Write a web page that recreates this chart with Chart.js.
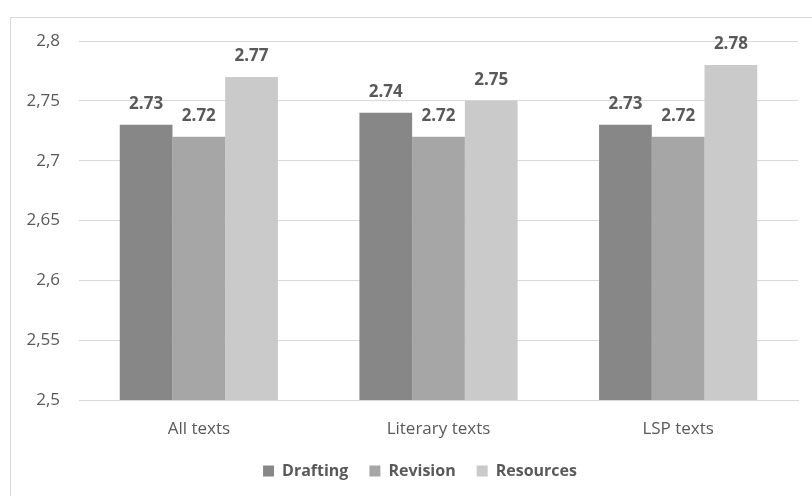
<!DOCTYPE html>
<html>
<head>
<meta charset="utf-8">
<script src="https://cdn.jsdelivr.net/npm/chart.js@4/dist/chart.umd.min.js"></script>
<style>
  html, body { margin: 0; padding: 0; background: #ffffff; overflow: hidden; width: 812px; height: 496px; }
  #frame { position: absolute; left: 10px; top: 17px; width: 820px; height: 490px; border-left: 1px solid #d9d9d9; border-top: 1px solid #d9d9d9; box-sizing: border-box; }
  #wrap { position: absolute; left: 10px; top: 17px; width: 820px; height: 472px; }
</style>
</head>
<body>
<div id="frame"></div>
<div id="wrap"><canvas id="c"></canvas></div>
<script>
const categories = ["All texts", "Literary texts", "LSP texts"];
const seriesNames = ["Drafting", "Revision", "Resources"];
const drafting = [2.73, 2.74, 2.73];
const revision = [2.72, 2.72, 2.72];
const resources = [2.77, 2.75, 2.78];
const yMin = 2.5, yMax = 2.8, yStep = 0.05;

const colors = ["#878787", "#a6a6a6", "#cacaca"];
const textColor = "#595959";
const fontFamily = "'Open Sans', 'Noto Sans', sans-serif";

const valueLabels = {
  id: "valueLabels",
  afterDatasetsDraw(chart) {
    const ctx = chart.ctx;
    ctx.save();
    ctx.font = "bold 17px " + fontFamily;
    ctx.fillStyle = textColor;
    ctx.textAlign = "center";
    ctx.textBaseline = "middle";
    chart.data.datasets.forEach((ds, i) => {
      const meta = chart.getDatasetMeta(i);
      meta.data.forEach((el, j) => {
        ctx.fillText(ds.data[j].toFixed(2), el.x, el.y - 21);
      });
    });
    ctx.restore();
  }
};

new Chart(document.getElementById("c"), {
  type: "bar",
  data: {
    labels: categories,
    datasets: [
      { label: seriesNames[0], data: drafting, backgroundColor: colors[0] },
      { label: seriesNames[1], data: revision, backgroundColor: colors[1] },
      { label: seriesNames[2], data: resources, backgroundColor: colors[2] }
    ]
  },
  options: {
    responsive: true,
    maintainAspectRatio: false,
    animation: false,
    datasets: { bar: { categoryPercentage: 0.66, barPercentage: 1.0, borderWidth: 0 } },
    layout: { padding: { top: 24, right: 0, bottom: 0, left: 0 } },
    scales: {
      x: {
        afterFit(scale) { scale.height = 42; },
        grid: { display: false, drawTicks: false },
        border: { display: true, color: "#d9d9d9", width: 1 },
        ticks: { color: textColor, font: { family: fontFamily, size: 17 }, padding: 19 }
      },
      y: {
        min: yMin, max: yMax,
        afterFit(scale) { scale.width = 69; scale.paddingTop = 0; scale.paddingBottom = 0; },
        grid: { color: "#d9d9d9", drawTicks: false },
        border: { display: false },
        ticks: {
          stepSize: yStep,
          color: textColor,
          font: { family: fontFamily, size: 17 },
          padding: 19,
          callback: (v) => String(parseFloat(Number(v).toFixed(2))).replace(".", ",")
        }
      },
      yRightSpace: {
        type: "linear",
        position: "right",
        afterFit(scale) { scale.width = 32; scale.paddingTop = 0; scale.paddingBottom = 0; },
        grid: { display: false, drawTicks: false },
        border: { display: false },
        ticks: { display: false }
      }
    },
    plugins: {
      legend: {
        position: "bottom",
        labels: {
          boxWidth: 11, boxHeight: 11, padding: 21,
          color: textColor,
          font: { family: fontFamily, size: 16, weight: "bold" }
        }
      },
      tooltip: { enabled: false }
    }
  },
  plugins: [valueLabels]
});
</script>
</body>
</html>
